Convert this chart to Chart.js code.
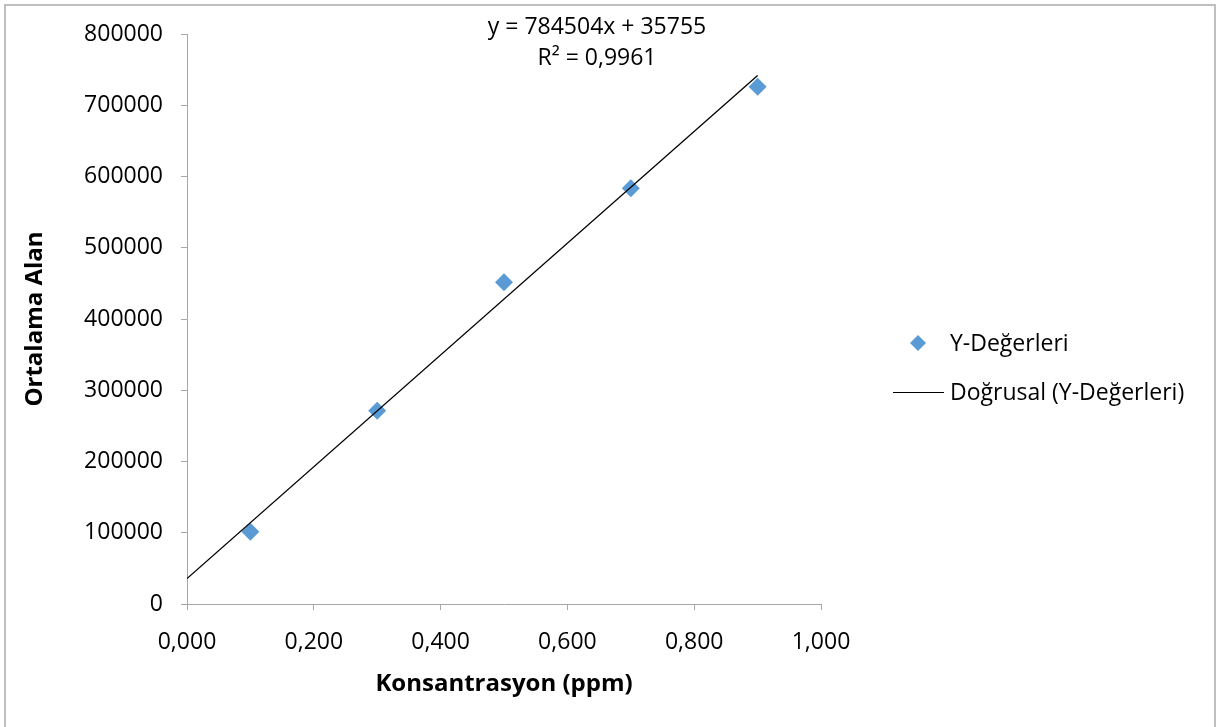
<!DOCTYPE html>
<html>
<head>
<meta charset="utf-8">
<script src="https://cdn.jsdelivr.net/npm/chart.js@4.4.1/dist/chart.umd.min.js"></script>
<style>
  html, body { margin: 0; padding: 0; background: #fff; }
  canvas { display: block; }
</style>
</head>
<body>
<canvas id="myChart" width="1221" height="727"></canvas>
<script>
// measured data (concentration in ppm, mean peak area)
const concentrations = [0.1, 0.3, 0.5, 0.7, 0.9];
const meanAreas = [101500, 271300, 451500, 583400, 726100];

// trendline as printed on the chart
const slope = 784504;
const intercept = 35755;
const rSquared = '0,9961';
const trendRange = [0, 0.9];

const seriesLabel = 'Y-Değerleri';
const trendLabel = 'Doğrusal (Y-Değerleri)';
const xTitle = 'Konsantrasyon (ppm)';
const yTitle = 'Ortalama Alan';

const FONT = "'Open Sans', 'Liberation Sans', sans-serif";
const BLUE = '#5B9BD5';
const AXIS_GRAY = '#A6A6A6';

const points = concentrations.map((x, i) => ({ x: x, y: meanAreas[i] }));
const trendPoints = trendRange.map(x => ({ x: x, y: slope * x + intercept }));

//Draw background, frame, equation and legend
const extras = {
    id: 'extras',
    beforeDraw(chart) {
        const ctx = chart.ctx;
        ctx.save();
        ctx.fillStyle = '#fff';
        ctx.fillRect(0, 0, chart.width, chart.height);
        ctx.strokeStyle = '#BFBFBF';
        ctx.lineWidth = 2;
        ctx.strokeRect(5, 5, 1210, 740);
        ctx.restore();
    },
    afterDraw(chart) {
        const ctx = chart.ctx;
        ctx.save();
        ctx.fillStyle = '#000';
        ctx.font = '23px ' + FONT;
        ctx.textAlign = 'center';
        ctx.textBaseline = 'middle';
        ctx.fillText('y = ' + slope + 'x + ' + intercept, 597, 27);
        ctx.fillText('R² = ' + rSquared, 597, 58);

        // legend
        ctx.textAlign = 'left';
        ctx.fillStyle = BLUE;
        ctx.beginPath();
        ctx.moveTo(918, 335);
        ctx.lineTo(926, 343);
        ctx.lineTo(918, 351);
        ctx.lineTo(910, 343);
        ctx.closePath();
        ctx.fill();
        ctx.fillStyle = '#000';
        ctx.fillText(seriesLabel, 950, 344);

        ctx.strokeStyle = '#000';
        ctx.lineWidth = 1;
        ctx.beginPath();
        ctx.moveTo(893, 392.5);
        ctx.lineTo(944, 392.5);
        ctx.stroke();
        ctx.fillText(trendLabel, 950, 393);
        ctx.restore();
    }
};

let chart = document.getElementById('myChart').getContext('2d');

//Config Chart.js
let myChart = new Chart(chart, {
    type: 'scatter',
    data: {
        datasets: [
            {
                label: seriesLabel,
                data: points,
                pointStyle: 'rectRot',
                pointRadius: 9,
                pointHoverRadius: 9,
                backgroundColor: BLUE,
                borderColor: BLUE,
                borderWidth: 0,
                order: 1
            },
            {
                label: trendLabel,
                type: 'line',
                data: trendPoints,
                borderColor: '#000',
                borderWidth: 1.3,
                pointRadius: 0,
                fill: false,
                order: 0
            }
        ]
    },
    options: {
        responsive: false,
        animation: false,
        layout: { padding: { top: 34, right: 400, left: 0, bottom: 0 } },
        plugins: {
            legend: { display: false },
            tooltip: { enabled: false }
        },
        scales: {
            x: {
                type: 'linear',
                min: 0,
                max: 1,
                ticks: {
                    stepSize: 0.2,
                    padding: 19,
                    color: '#000',
                    font: { family: FONT, size: 23 },
                    callback: v => v.toFixed(3).replace('.', ',')
                },
                grid: { drawOnChartArea: false, tickLength: 6, color: AXIS_GRAY },
                border: { color: AXIS_GRAY, width: 1 },
                title: {
                    display: true,
                    text: xTitle,
                    color: '#000',
                    font: { family: FONT, size: 24, weight: 'bold' },
                    padding: { top: 10, bottom: 28 }
                },
                afterFit(scale) { scale.height = 727 - 604; }
            },
            y: {
                type: 'linear',
                min: 0,
                max: 800000,
                ticks: {
                    stepSize: 100000,
                    padding: 18,
                    color: '#000',
                    font: { family: FONT, size: 23 },
                    callback: v => String(v)
                },
                grid: { drawOnChartArea: false, tickLength: 6, color: AXIS_GRAY },
                border: { color: AXIS_GRAY, width: 1 },
                title: {
                    display: true,
                    text: yTitle,
                    color: '#000',
                    font: { family: FONT, size: 24, weight: 'bold' },
                    padding: { top: 21, bottom: 0 }
                },
                afterFit(scale) { scale.width = 187; }
            }
        }
    },
    plugins: [extras]
});
</script>
</body>
</html>
